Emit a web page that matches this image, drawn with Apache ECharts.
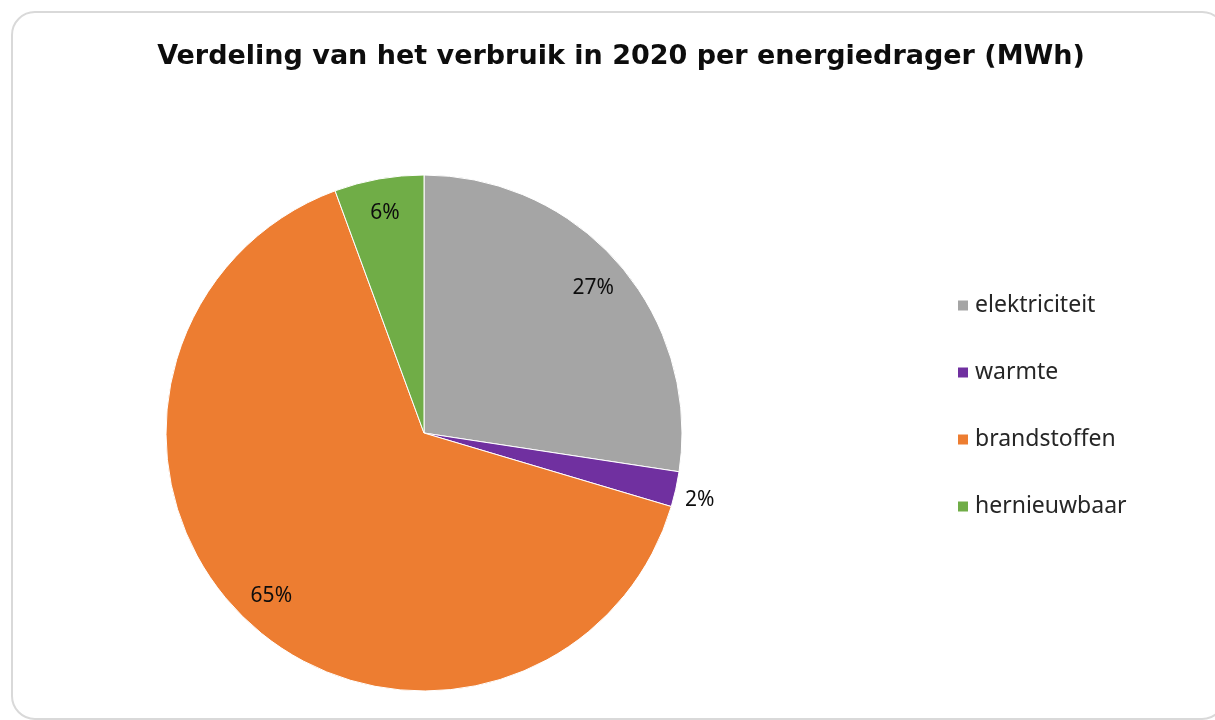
<!DOCTYPE html>
<html>
<head>
<meta charset="utf-8">
<script src="https://cdn.jsdelivr.net/npm/echarts@6/dist/echarts.min.js"></script>
<style>
  html, body { margin: 0; padding: 0; background: #ffffff; overflow: hidden; }
  #frame {
    position: absolute; left: 11px; top: 11px; width: 1215px; height: 709px;
    border: 2px solid #d9d9d9; border-radius: 24px; box-sizing: border-box;
  }
  #chart { position: absolute; left: 0; top: 0; width: 1215px; height: 720px; }
</style>
</head>
<body>
<div id="frame"></div>
<div id="chart"></div>
<script>
// Share of consumption per energy carrier, 2020 (in %)
const categories = ['elektriciteit', 'warmte', 'brandstoffen', 'hernieuwbaar'];
const shares = [27.4, 2.2, 64.8, 5.6];
const colors = ['#A5A5A5', '#7030A0', '#ED7D31', '#70AD47'];

const chart = echarts.init(document.getElementById('chart'), null, { renderer: 'canvas' });

const pieData = categories.map((name, i) => ({ name, value: shares[i] }));
const labelData = categories.map((name, i) => {
  const item = { name, value: shares[i] };
  if (name === 'warmte') {
    // small slice: label sits just outside the rim
    item.label = { offset: [58, 18] };
  }
  return item;
});

const fontFamily = '"Noto Sans", "DejaVu Sans", sans-serif';

chart.setOption({
  animation: false,
  color: colors,
  title: {
    text: 'Verdeling van het verbruik in 2020 per energiedrager (MWh)',
    left: 616, top: 38, textAlign: 'center',
    textStyle: { fontFamily: '"DejaVu Sans", sans-serif', fontWeight: 'bold', fontSize: 27, color: '#0d0d0d' }
  },
  legend: {
    orient: 'vertical',
    left: 951, top: 289,
    itemWidth: 12, itemHeight: 12, itemGap: 44,
    icon: 'rect',
    data: categories,
    textStyle: { fontFamily, fontSize: 23, color: '#262626', padding: [0, 0, 0, 1] }
  },
  series: [
    {
      type: 'pie',
      center: [424, 433],
      radius: [0, 258],
      startAngle: 90,
      clockwise: true,
      data: pieData,
      label: { show: false },
      labelLine: { show: false },
      itemStyle: { borderColor: '#ffffff', borderWidth: 1 },
      emphasis: { disabled: true }
    },
    {
      // transparent ring used only to place the percentage labels
      type: 'pie',
      center: [424, 433],
      radius: [182, 258],
      startAngle: 90,
      clockwise: true,
      data: labelData,
      silent: true,
      legendHoverLink: false,
      itemStyle: { color: 'rgba(0,0,0,0)' },
      labelLine: { show: false },
      label: {
        show: true,
        position: 'inside',
        formatter: p => Math.round(p.percent) + '%',
        fontFamily, fontSize: 21, color: '#0d0d0d'
      },
      emphasis: { disabled: true }
    }
  ]
});
</script>
</body>
</html>
